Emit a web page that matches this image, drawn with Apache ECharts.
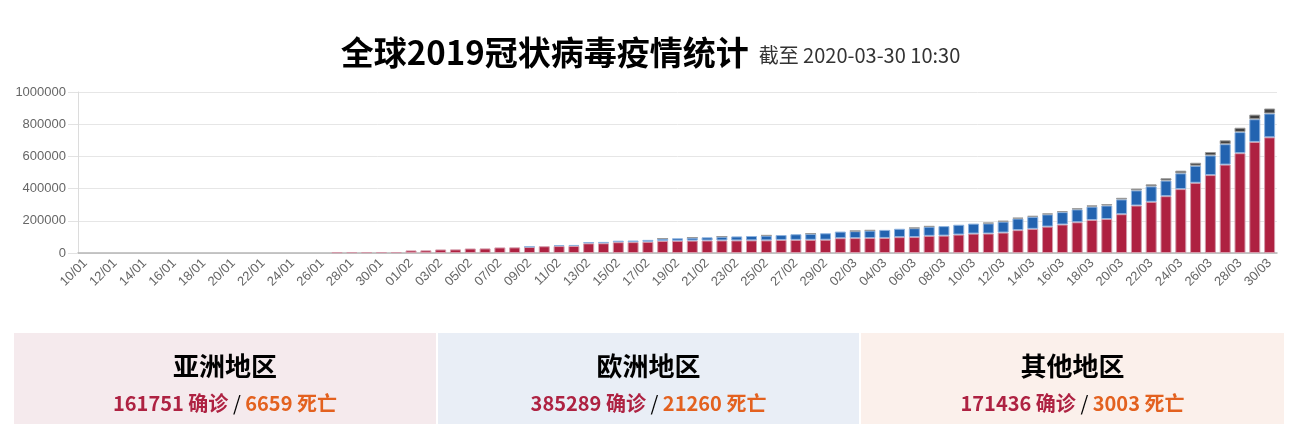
<!DOCTYPE html>
<html>
<head>
<meta charset="utf-8">
<script src="https://cdn.jsdelivr.net/npm/echarts@6/dist/echarts.min.js"></script>
<style>
html,body{margin:0;padding:0;background:#fff;}
#chart{width:1301px;height:424px;}
</style>
</head>
<body>
<div id="chart"></div>
<script>
const categories = [
 '10/01','11/01','12/01','13/01','14/01','15/01','16/01','17/01','18/01','19/01',
 '20/01','21/01','22/01','23/01','24/01','25/01','26/01','27/01','28/01','29/01',
 '30/01','31/01','01/02','02/02','03/02','04/02','05/02','06/02','07/02','08/02',
 '09/02','10/02','11/02','12/02','13/02','14/02','15/02','16/02','17/02','18/02',
 '19/02','20/02','21/02','22/02','23/02','24/02','25/02','26/02','27/02','28/02',
 '29/02','01/03','02/03','03/03','04/03','05/03','06/03','07/03','08/03','09/03',
 '10/03','11/03','12/03','13/03','14/03','15/03','16/03','17/03','18/03','19/03',
 '20/03','21/03','22/03','23/03','24/03','25/03','26/03','27/03','28/03','29/03',
 '30/03'
];

const confirmedSeries = [
 null,null,null,null,null,null,null,null,null,null,
 null,null,null,null,null,null,null,4500,5000,5000,
 5500,5500,16000,16500,22000,22500,28000,28500,34500,35000,
 37000,42000,43000,43500,60000,60500,67000,67500,69500,75000,
 75500,77000,77500,78000,78000,78500,78500,81000,81500,82000,
 82500,92000,92500,93000,93500,98500,99000,106500,108000,114500,
 120500,121000,127000,142000,150000,164000,177000,191000,205000,211000,
 241000,295000,318000,353000,397000,436000,484000,549000,620000,690000,
 718476
];

const recoveredSeries = [
 null,null,null,null,null,null,null,null,null,null,
 null,null,null,null,null,null,null,null,null,null,
 null,null,null,null,null,null,null,null,null,null,
 3500,null,6000,6500,8000,8500,9500,10000,12000,14000,
 16000,18000,20000,23000,25000,27000,29500,30500,35000,37000,
 40000,41000,43000,46000,50000,52000,55000,57000,59000,61000,
 62000,63000,68000,72000,75000,76000,77000,80000,83000,84000,
 92000,94000,96000,97000,98000,106000,122000,127000,131000,141000,
 148000
];

const deathSeries = [
 null,null,null,null,null,null,null,null,null,null,
 null,null,null,null,null,null,null,null,null,null,
 null,null,null,null,null,null,null,null,null,null,
 null,null,null,null,null,null,null,null,null,2000,
 null,2100,null,2250,null,null,2450,null,null,2800,
 null,null,3000,3100,null,null,3400,3500,null,null,
 null,4300,4600,5000,5400,5800,6400,7000,7900,8700,
 9800,11000,12500,14300,16300,18500,21000,24000,27000,28500,
 30922
];

const yTicks = { min: 0, max: 1000000, interval: 200000 };

const titleText = '全球2019冠状病毒疫情统计';
const subtitleText = '截至 2020-03-30 10:30';

const regionNames = ['亚洲地区', '欧洲地区', '其他地区'];
const regionConfirmed = [161751, 385289, 171436];
const regionDeaths = [6659, 21260, 3003];
const regionColors = ['#f5eaed', '#e9eef6', '#fbf0eb'];

const CJK = '"Noto Sans CJK SC", "Noto Sans", sans-serif';

const chart = echarts.init(document.getElementById('chart'), null, { renderer: 'canvas' });

const panelX = [14, 438, 861];
const panelW = [422, 421, 423];
const graphics = [];
regionNames.forEach((name, i) => {
  const cx = panelX[i] + panelW[i] / 2;
  graphics.push({
    type: 'rect', silent: true,
    shape: { x: panelX[i], y: 333, width: panelW[i], height: 100 },
    style: { fill: regionColors[i] }
  });
  graphics.push({
    type: 'text', silent: true, x: cx, y: 366,
    style: {
      text: name, fill: '#000',
      font: 'bold 26px ' + CJK,
      align: 'center', verticalAlign: 'middle',
      textAlign: 'center', textVerticalAlign: 'middle'
    }
  });
  graphics.push({
    type: 'text', silent: true, x: cx, y: 403,
    style: {
      text: '{c|' + regionConfirmed[i] + ' 确诊} {s|/} {d|' + regionDeaths[i] + ' 死亡}',
      fill: '#000',
      font: 'bold 20px ' + CJK,
      align: 'center', verticalAlign: 'middle',
      textAlign: 'center', textVerticalAlign: 'middle',
      rich: {
        c: { fill: '#ae2242', color: '#ae2242', fontSize: 20, fontWeight: 'bold', fontFamily: CJK },
        s: { fill: '#000', color: '#000', fontSize: 20, fontWeight: 'normal', fontFamily: CJK },
        d: { fill: '#e3611f', color: '#e3611f', fontSize: 20, fontWeight: 'bold', fontFamily: CJK }
      }
    }
  });
});

const option = {
  animation: false,
  backgroundColor: '#fff',
  title: {
    text: '{a|' + titleText + '}  {b|' + subtitleText + '}',
    left: 'center',
    top: 22,
    textStyle: {
      rich: {
        a: { fontSize: 33, fontWeight: 'bold', color: '#000', fontFamily: CJK, verticalAlign: 'bottom', lineHeight: 42 },
        b: { fontSize: 20, fontWeight: 'normal', color: '#333', fontFamily: CJK, verticalAlign: 'bottom', lineHeight: 42, padding: [0, 0, 4, 0] }
      }
    }
  },
  grid: { left: 78, right: 24, top: 92, bottom: 171, containLabel: false },
  xAxis: {
    type: 'category',
    data: categories,
    boundaryGap: true,
    axisLine: { show: true, lineStyle: { color: '#b5b5b5', width: 1.5 } },
    axisTick: { show: false },
    axisLabel: {
      rotate: 45, interval: 1, color: '#666', fontSize: 13,
      fontFamily: '"Liberation Sans", Arial, sans-serif', margin: 8
    },
    splitLine: { show: false }
  },
  yAxis: {
    type: 'value',
    min: yTicks.min, max: yTicks.max, interval: yTicks.interval,
    axisLine: { show: true, lineStyle: { color: '#dcdcdc' } },
    axisTick: { show: true, length: 10, lineStyle: { color: '#e2e2e2' } },
    axisLabel: {
      color: '#666', fontSize: 13, fontFamily: '"Liberation Sans", Arial, sans-serif', margin: 12,
      formatter: function (v) { return String(v); }
    },
    splitLine: { show: true, lineStyle: { color: '#e6e6e6' } }
  },
  series: [
    {
      name: '确诊', type: 'bar', stack: 'total', barWidth: 11,
      data: confirmedSeries,
      itemStyle: { color: '#ae2141', borderColor: '#d49aaa', borderWidth: 1 }
    },
    {
      name: '治愈', type: 'bar', stack: 'total', barWidth: 11,
      data: recoveredSeries,
      itemStyle: { color: '#2263b0', borderColor: '#8db2de', borderWidth: 1 }
    },
    {
      name: '死亡', type: 'bar', stack: 'total', barWidth: 11,
      data: deathSeries,
      itemStyle: { color: '#404040', borderColor: '#9a9a9a', borderWidth: 1 }
    }
  ],
  graphic: graphics
};

chart.setOption(option);
</script>
</body>
</html>
